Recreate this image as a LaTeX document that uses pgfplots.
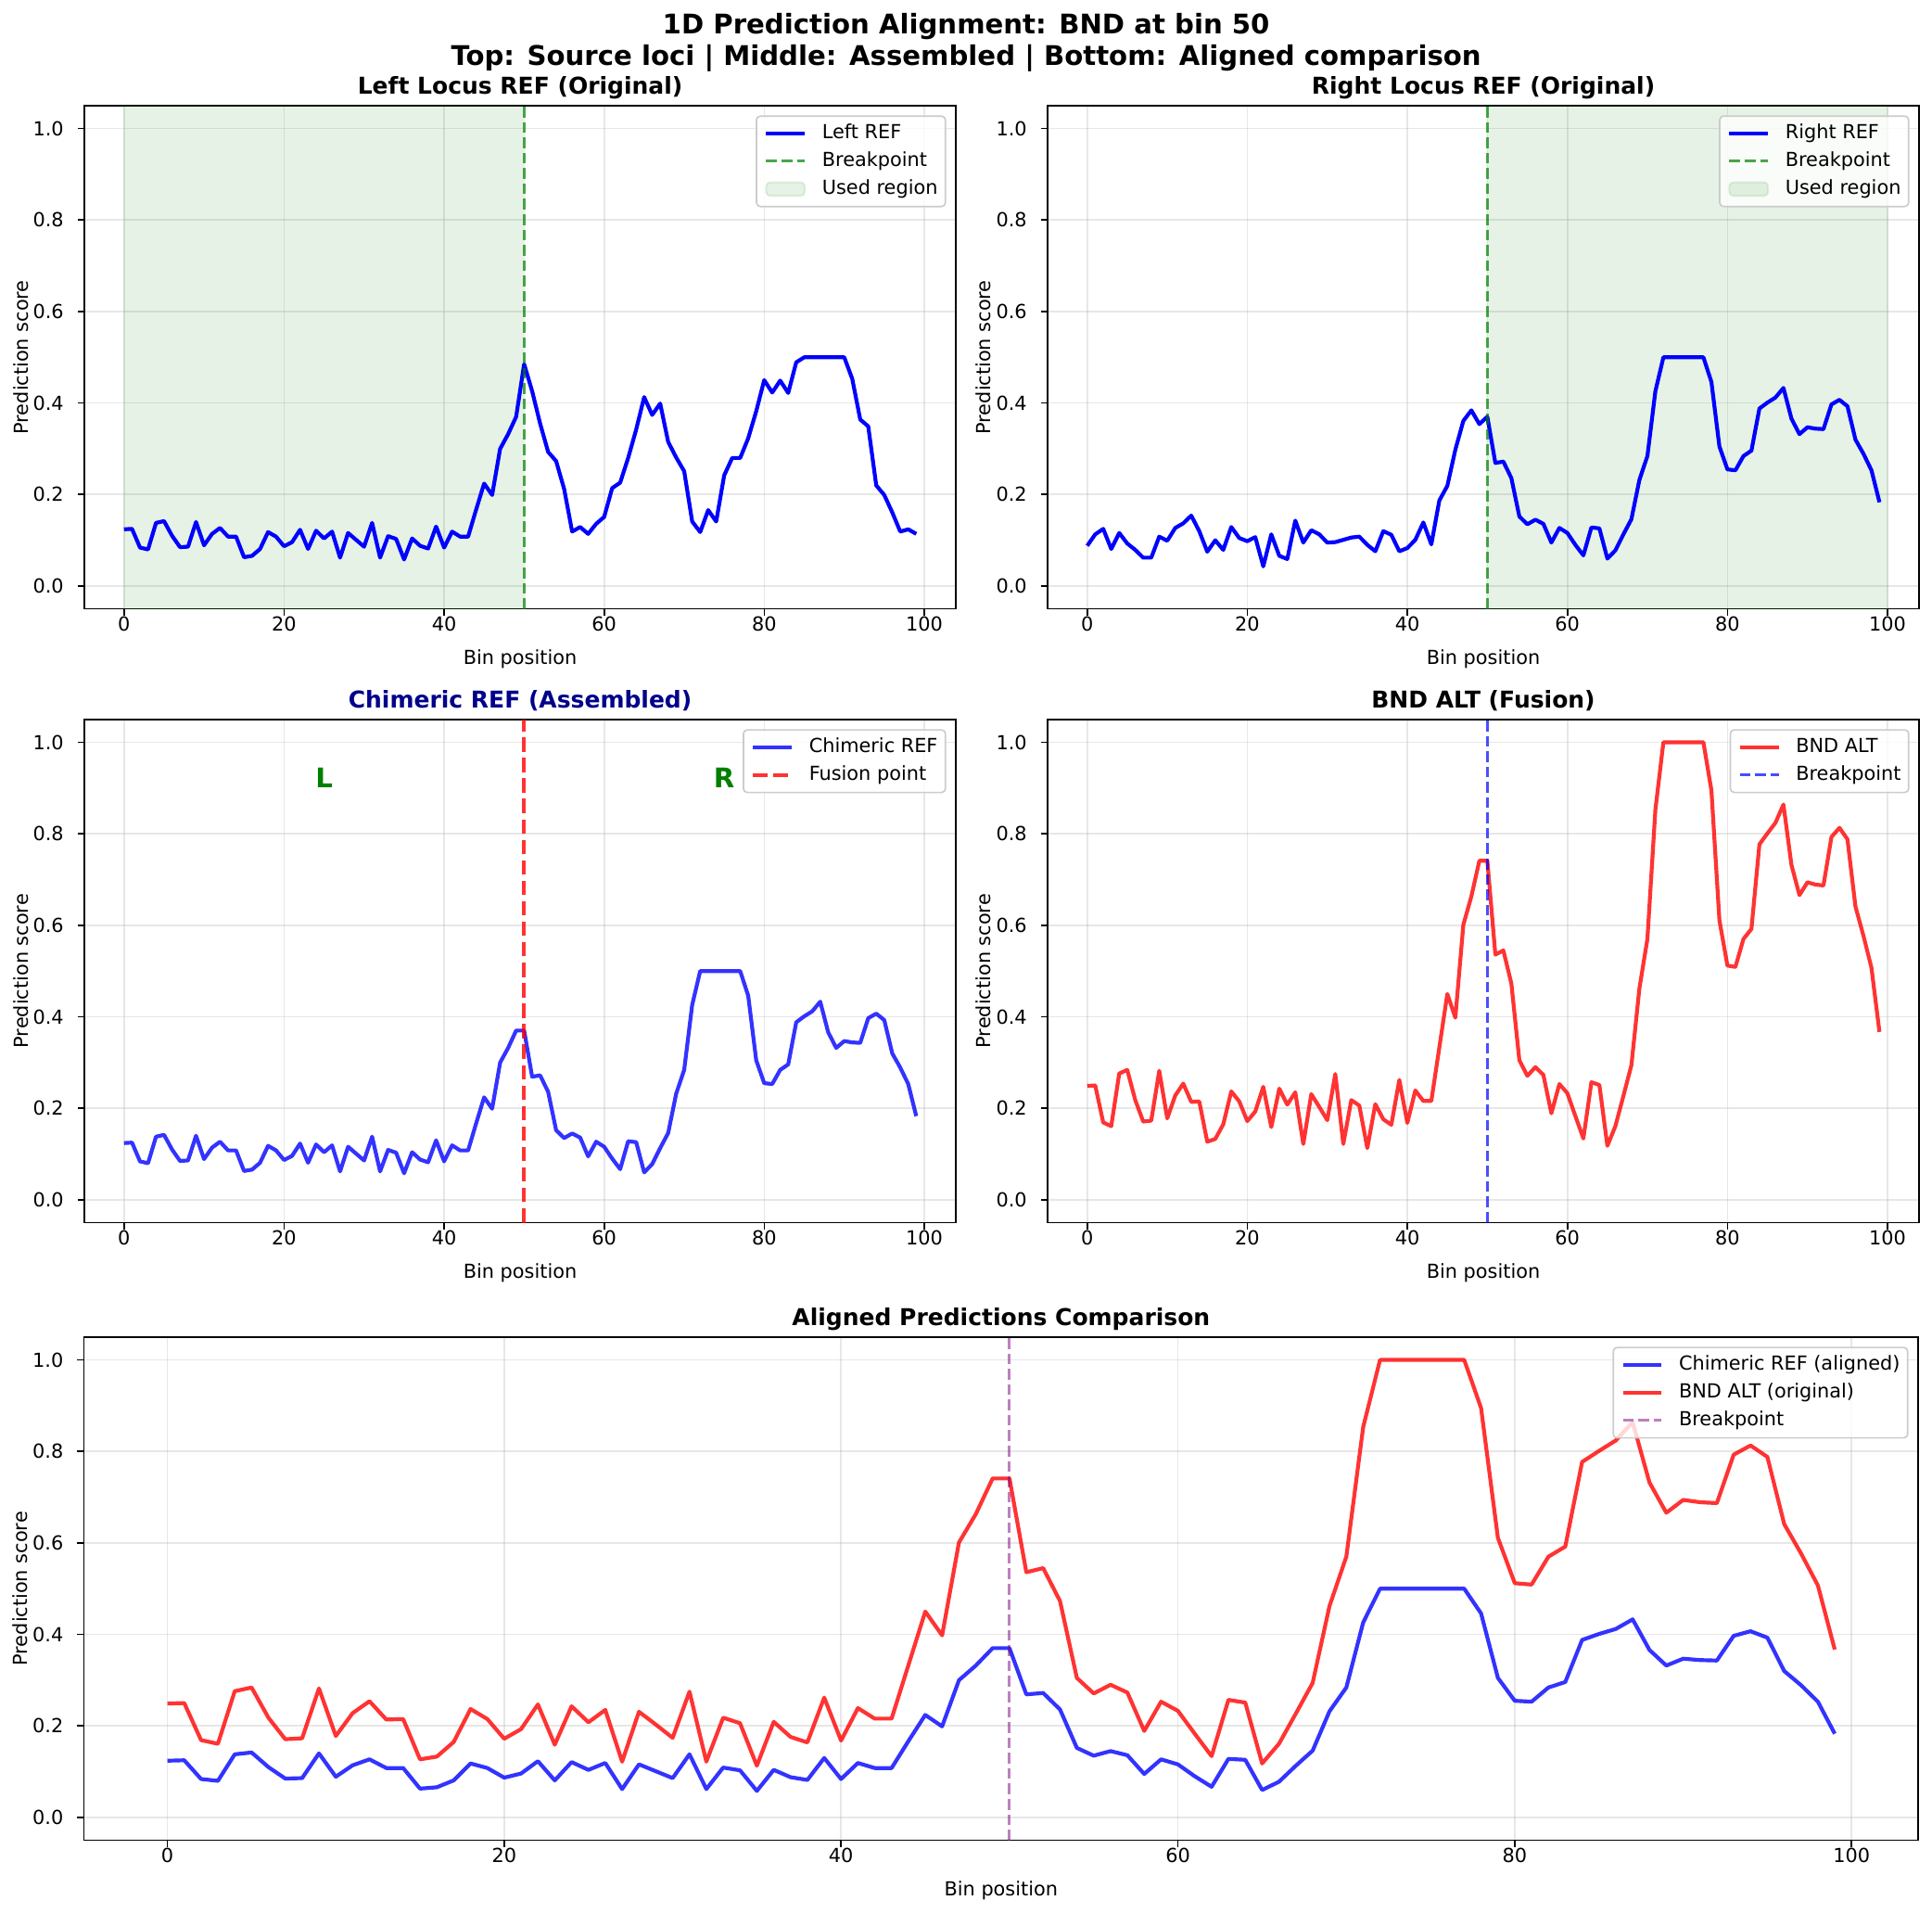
\documentclass[border=0pt]{standalone}
\usepackage{fontspec}
\setmainfont{DejaVu Sans}
\usepackage{pgfplots}
\usepackage{pgfplotstable}
\pgfplotsset{compat=1.18}

\definecolor{mplblue}{RGB}{0,0,255}
\definecolor{mplred}{RGB}{255,0,0}
\definecolor{mplgreen}{RGB}{0,128,0}
\definecolor{mplpurple}{RGB}{128,0,128}
\definecolor{mpldarkblue}{RGB}{0,0,139}
\definecolor{gridgray}{RGB}{176,176,176}
\definecolor{legedge}{RGB}{204,204,204}

\pgfplotstableread{
bin left right chim alt
0 0.124 0.088 0.124 0.249
1 0.125 0.113 0.125 0.250
2 0.084 0.125 0.084 0.169
3 0.080 0.081 0.080 0.161
4 0.138 0.116 0.138 0.276
5 0.142 0.093 0.142 0.284
6 0.110 0.079 0.110 0.218
7 0.085 0.062 0.085 0.171
8 0.086 0.062 0.086 0.173
9 0.140 0.108 0.140 0.282
10 0.089 0.099 0.089 0.178
11 0.114 0.127 0.114 0.228
12 0.127 0.137 0.127 0.254
13 0.108 0.154 0.108 0.214
14 0.108 0.120 0.108 0.215
15 0.063 0.075 0.063 0.127
16 0.066 0.100 0.066 0.133
17 0.081 0.079 0.081 0.165
18 0.118 0.129 0.118 0.237
19 0.108 0.105 0.108 0.215
20 0.087 0.098 0.087 0.172
21 0.096 0.107 0.096 0.193
22 0.123 0.043 0.123 0.247
23 0.081 0.113 0.081 0.159
24 0.121 0.066 0.121 0.243
25 0.104 0.059 0.104 0.208
26 0.119 0.143 0.119 0.235
27 0.062 0.095 0.062 0.122
28 0.116 0.122 0.116 0.231
29 0.101 0.113 0.101 0.203
30 0.086 0.095 0.086 0.174
31 0.138 0.096 0.138 0.275
32 0.062 0.101 0.062 0.122
33 0.109 0.106 0.109 0.218
34 0.103 0.108 0.103 0.206
35 0.058 0.090 0.058 0.113
36 0.104 0.076 0.104 0.209
37 0.088 0.120 0.088 0.176
38 0.082 0.112 0.082 0.164
39 0.130 0.076 0.130 0.262
40 0.084 0.083 0.084 0.168
41 0.119 0.101 0.119 0.239
42 0.108 0.139 0.108 0.216
43 0.108 0.091 0.108 0.216
44 0.167 0.187 0.167 0.333
45 0.224 0.219 0.224 0.450
46 0.199 0.298 0.199 0.398
47 0.300 0.361 0.300 0.601
48 0.332 0.384 0.332 0.663
49 0.370 0.354 0.370 0.741
50 0.485 0.370 0.370 0.741
51 0.426 0.269 0.269 0.536
52 0.355 0.272 0.272 0.545
53 0.293 0.236 0.236 0.473
54 0.273 0.152 0.152 0.305
55 0.212 0.135 0.135 0.271
56 0.119 0.145 0.145 0.290
57 0.129 0.136 0.136 0.273
58 0.114 0.095 0.095 0.189
59 0.136 0.127 0.127 0.253
60 0.151 0.116 0.116 0.233
61 0.214 0.090 0.090 0.183
62 0.226 0.067 0.067 0.134
63 0.280 0.128 0.128 0.257
64 0.342 0.126 0.126 0.251
65 0.413 0.060 0.060 0.118
66 0.374 0.078 0.078 0.161
67 0.399 0.113 0.113 0.227
68 0.315 0.146 0.146 0.294
69 0.281 0.232 0.232 0.462
70 0.251 0.284 0.284 0.570
71 0.141 0.426 0.426 0.853
72 0.118 0.500 0.500 1.000
73 0.166 0.500 0.500 1.000
74 0.141 0.500 0.500 1.000
75 0.242 0.500 0.500 1.000
76 0.280 0.500 0.500 1.000
77 0.280 0.500 0.500 1.000
78 0.323 0.446 0.446 0.895
79 0.382 0.305 0.305 0.611
80 0.450 0.255 0.255 0.512
81 0.423 0.253 0.253 0.509
82 0.449 0.284 0.284 0.570
83 0.422 0.296 0.296 0.592
84 0.489 0.388 0.388 0.777
85 0.500 0.401 0.401 0.801
86 0.500 0.412 0.412 0.824
87 0.500 0.433 0.433 0.864
88 0.500 0.366 0.366 0.732
89 0.500 0.332 0.332 0.666
90 0.500 0.347 0.347 0.694
91 0.453 0.344 0.344 0.689
92 0.364 0.343 0.343 0.687
93 0.349 0.397 0.397 0.793
94 0.220 0.407 0.407 0.813
95 0.199 0.393 0.393 0.788
96 0.161 0.320 0.320 0.641
97 0.119 0.289 0.289 0.577
98 0.124 0.253 0.253 0.507
99 0.114 0.183 0.183 0.367
}\data

\pgfplotsset{
  mplaxis/.style={
    scale only axis, width=451.2pt, height=260.5pt, anchor=south west,
    xmin=-4.95, xmax=103.95, ymin=-0.05, ymax=1.05,
    xtick={0,20,40,60,80,100}, ytick={0,0.2,0.4,0.6,0.8,1},
    no markers,
    grid=major, grid style={line width=0.8pt, draw=gridgray, draw opacity=0.3},
    axis line style={line width=0.8pt, black},
    tick style={line width=0.8pt, black},
    tick align=outside, major tick length=3.5pt,
    xtick pos=lower, ytick pos=left,
    ticklabel style={font=\fontsize{10}{12}\selectfont},
    /pgf/number format/assume math mode=true,
    xticklabel style={anchor=north, inner sep=0pt, yshift=-0.3pt},
    yticklabel style={anchor=east, inner sep=0pt, xshift=-7pt, /pgf/number format/.cd, fixed, fixed zerofill, precision=1},
    every axis x label/.style={at={(axis description cs:0.5,0)}, anchor=base, yshift=-28.6pt, inner sep=0pt, font=\fontsize{10}{12}\selectfont},
    every axis y label/.style={at={(axis description cs:0,0.5)}, xshift=-29.3pt, rotate=90, anchor=base, inner sep=0pt, font=\fontsize{10}{12}\selectfont},
    every axis title/.style={at={(axis description cs:0.5,1)}, anchor=base, yshift=6pt, inner sep=0pt, font=\bfseries\fontsize{12}{14.4}\selectfont},
    xlabel={Bin position}, ylabel={Prediction score},
    legend cell align=left,
    legend image code/.code={\draw[#1] (0pt,0pt) -- (20pt,0pt);},
    legend style={at={(1,1)}, anchor=north east, xshift=-5pt, yshift=-5pt,
      draw=legedge, fill=white, fill opacity=0.8, draw opacity=1, text opacity=1,
      rounded corners=2pt, line width=0.8pt, font=\fontsize{10}{12}\selectfont,
      inner xsep=4pt, inner ysep=4pt, row sep=4.4pt, column sep=8pt,
      nodes={inner sep=0pt, text height=7.6pt, text depth=2.4pt}},
  },
  every axis plot/.append style={line join=round},
}

\begin{document}
\begin{tikzpicture}
\path[use as bounding box] (0pt,0pt) rectangle (1000.3pt,990.2pt);

\node[anchor=base, font=\bfseries\fontsize{14}{16.8}\selectfont] at (500.2pt,972.9pt) {1D Prediction Alignment: BND at bin 50};
\node[anchor=base, font=\bfseries\fontsize{14}{16.8}\selectfont] at (500.2pt,956.4pt) {Top: Source loci | Middle: Assembled | Bottom: Aligned comparison};

% Top-left
\begin{axis}[mplaxis, at={(43.7pt,675.0pt)}, title={Left Locus REF (Original)}]
\addplot[draw=mplgreen, draw opacity=0.1, fill=mplgreen, fill opacity=0.1, forget plot] coordinates {(0,-0.05) (0,1.05) (50,1.05) (50,-0.05)} -- cycle;
\addplot[mplblue, line width=2pt] table[x=bin, y=left] {\data};
\addlegendentry{Left REF}
\addplot[mplgreen, draw opacity=0.7, line width=1.5pt, dash pattern=on 5.55pt off 2.4pt] coordinates {(50,-0.05) (50,1.05)};
\addlegendentry{Breakpoint}
\addlegendimage{legend image code/.code={\draw[fill=mplgreen, fill opacity=0.1, draw=mplgreen, draw opacity=0.1, line width=1pt] (0pt,-3.5pt) rectangle (20pt,3.5pt);}}
\addlegendentry{Used region}
\end{axis}

% Top-right
\begin{axis}[mplaxis, at={(542.4pt,675.0pt)}, title={Right Locus REF (Original)}]
\addplot[draw=mplgreen, draw opacity=0.1, fill=mplgreen, fill opacity=0.1, forget plot] coordinates {(50,-0.05) (50,1.05) (100,1.05) (100,-0.05)} -- cycle;
\addplot[mplblue, line width=2pt] table[x=bin, y=right] {\data};
\addlegendentry{Right REF}
\addplot[mplgreen, draw opacity=0.7, line width=1.5pt, dash pattern=on 5.55pt off 2.4pt] coordinates {(50,-0.05) (50,1.05)};
\addlegendentry{Breakpoint}
\addlegendimage{legend image code/.code={\draw[fill=mplgreen, fill opacity=0.1, draw=mplgreen, draw opacity=0.1, line width=1pt] (0pt,-3.5pt) rectangle (20pt,3.5pt);}}
\addlegendentry{Used region}
\end{axis}

% Middle-left
\begin{axis}[mplaxis, at={(43.7pt,357.3pt)}, title={Chimeric REF (Assembled)}, title style={text=mpldarkblue}]
\addplot[mplblue, draw opacity=0.8, line width=2pt] table[x=bin, y=chim] {\data};
\addlegendentry{Chimeric REF}
\addplot[mplred, draw opacity=0.8, line width=2pt, dash pattern=on 7.4pt off 3.2pt] coordinates {(50,-0.05) (50,1.05)};
\addlegendentry{Fusion point}
\node[text=mplgreen, font=\bfseries\fontsize{14}{16.8}\selectfont, anchor=base] at (axis cs:25,0.9) {L};
\node[text=mplgreen, font=\bfseries\fontsize{14}{16.8}\selectfont, anchor=base] at (axis cs:75,0.9) {R};
\end{axis}

% Middle-right
\begin{axis}[mplaxis, at={(542.4pt,357.3pt)}, title={BND ALT (Fusion)}]
\addplot[mplred, draw opacity=0.8, line width=2pt] table[x=bin, y=alt] {\data};
\addlegendentry{BND ALT}
\addplot[mplblue, draw opacity=0.7, line width=1.5pt, dash pattern=on 5.55pt off 2.4pt] coordinates {(50,-0.05) (50,1.05)};
\addlegendentry{Breakpoint}
\end{axis}

% Bottom
\begin{axis}[mplaxis, at={(43.5pt,37.6pt)}, width=949.6pt, title={Aligned Predictions Comparison}]
\addplot[mplblue, draw opacity=0.8, line width=2pt] table[x=bin, y=chim] {\data};
\addlegendentry{Chimeric REF (aligned)}
\addplot[mplred, draw opacity=0.8, line width=2pt] table[x=bin, y=alt] {\data};
\addlegendentry{BND ALT (original)}
\addplot[mplpurple, draw opacity=0.5, line width=1.5pt, dash pattern=on 5.55pt off 2.4pt] coordinates {(50,-0.05) (50,1.05)};
\addlegendentry{Breakpoint}
\end{axis}
\end{tikzpicture}
\end{document}
